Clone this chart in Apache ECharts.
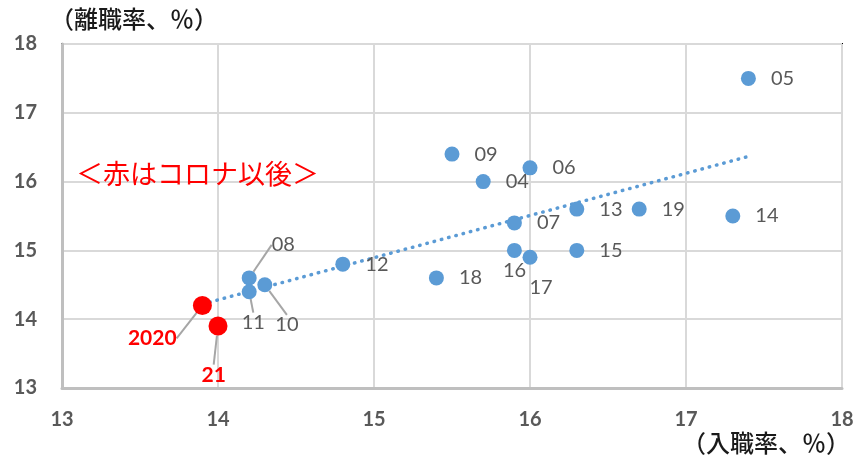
<!DOCTYPE html>
<html><head><meta charset="utf-8">
<script src="https://cdn.jsdelivr.net/npm/echarts@6/dist/echarts.min.js"></script>
<style>html,body{margin:0;padding:0;background:#fff}#c{width:866px;height:462px}</style>
</head><body><div id="c"></div>
<script>
// data
const years    = ['05','09','06','04','07','13','19','14','15','16','17','12','18','08','11','10'];
const hireRate = [17.4,15.5,16.0,15.7,15.9,16.3,16.7,17.3,16.3,15.9,16.0,14.8,15.4,14.2,14.2,14.3];
const sepRate  = [17.5,16.4,16.2,16.0,15.4,15.6,15.6,15.5,15.0,15.0,14.9,14.8,14.6,14.6,14.4,14.5];
const covidYears = ['2020','21'];
const covidHire  = [13.9,14.0];
const covidSep   = [14.2,13.9];
const xTicks = [13,14,15,16,17,18];
const yTicks = [13,14,15,16,17,18];

// label displacement (px) from default right-side position
const labelShift = {
  '16':[-34,20], '17':[-23,30], '08':[0,-33], '11':[-30,31], '10':[-12,40],
  '2020':[-98,33], '21':[-40,49]
};
const withLeader = {'08':1,'11':1,'10':1,'2020':1,'21':1};
const leaderStyle = {show:true,lineStyle:{color:'#a6a6a6',width:2}};

// linear trend from all points (least squares)
const allX = hireRate.concat(covidHire), allY = sepRate.concat(covidSep);
const n = allX.length;
const mx = allX.reduce((a,b)=>a+b,0)/n, my = allY.reduce((a,b)=>a+b,0)/n;
let sxy=0,sxx=0; for(let i=0;i<n;i++){sxy+=(allX[i]-mx)*(allY[i]-my);sxx+=(allX[i]-mx)**2;}
const slope = sxy/sxx, icpt = my - slope*mx;
const xMin = Math.min(...allX), xMax = Math.max(...allX);
const trend = [[xMin, icpt+slope*xMin],[xMax, icpt+slope*xMax]];

function mk(names, xs, ys){
  return names.map((y,i)=>{
    const d = {name:y, value:[xs[i], ys[i]]};
    d.labelLine = withLeader[y] ? leaderStyle : {show:false};
    return d;
  });
}
const blueData = mk(years, hireRate, sepRate);
const redData = mk(covidYears, covidHire, covidSep);

function layoutFn(data){
  return function(p){
    const s = labelShift[data[p.dataIndex].name];
    if(!s) return {};
    return {dx:s[0], dy:s[1]};
  };
}

const chart = echarts.init(document.getElementById('c'), null, {renderer:'canvas'});
chart.setOption({
  animation:false,
  grid:{left:62,top:44,right:24,bottom:74,show:true,borderColor:'#000',borderWidth:2,backgroundColor:'transparent'},
  xAxis:{type:'value',min:13,max:18,interval:1,
    axisLine:{show:true,onZero:false,lineStyle:{color:'#bfbfbf',width:3}},
    axisTick:{show:false},
    splitLine:{show:true,lineStyle:{color:'#d9d9d9',width:2}},
    axisLabel:{margin:22,color:'#595959',fontSize:20,fontWeight:'bold',fontFamily:'Lato',
      formatter:v=>xTicks.includes(v)?String(v):''}
  },
  yAxis:{type:'value',min:13,max:18,interval:1,
    axisLine:{show:true,onZero:false,lineStyle:{color:'#bfbfbf',width:3}},
    axisTick:{show:false},
    splitLine:{show:true,lineStyle:{color:'#d9d9d9',width:2}},
    axisLabel:{margin:25,color:'#595959',fontSize:20,fontWeight:'bold',fontFamily:'Lato',
      formatter:v=>yTicks.includes(v)?String(v):''}
  },
  graphic:[
    {type:'text',left:50,top:7,z:100,style:{text:'（離職率、％）',fill:'#1a1a1a',font:'500 24px "Noto Sans CJK JP"'}},
    {type:'text',right:16,top:431,z:100,style:{text:'（入職率、％）',fill:'#1a1a1a',font:'500 24px "Noto Sans CJK JP"'}},
    {type:'text',left:76,top:160,z:100,style:{text:'＜赤はコロナ以後＞',fill:'#ff0000',font:'400 27px "Noto Sans CJK JP"'}}
  ],
  series:[
    {type:'line',data:trend,symbol:'none',silent:true,z:1,
      lineStyle:{color:'#5b9bd5',width:3.5,type:[0.5,7],cap:'round'}},
    {type:'scatter',data:blueData,symbolSize:15,z:3,
      itemStyle:{color:'#5b9bd5',opacity:1},
      label:{show:true,position:'right',distance:15,formatter:'{b}',color:'#595959',fontSize:20,fontFamily:'Lato'},
      labelLayout:layoutFn(blueData)
    },
    {type:'scatter',data:redData,symbolSize:19,z:4,
      itemStyle:{color:'#ff0000',opacity:1},
      label:{show:true,position:'right',distance:14,formatter:'{b}',color:'#ff0000',fontSize:21,fontWeight:'bold',fontFamily:'Lato'},
      labelLayout:layoutFn(redData)
    }
  ]
});
</script></body></html>
